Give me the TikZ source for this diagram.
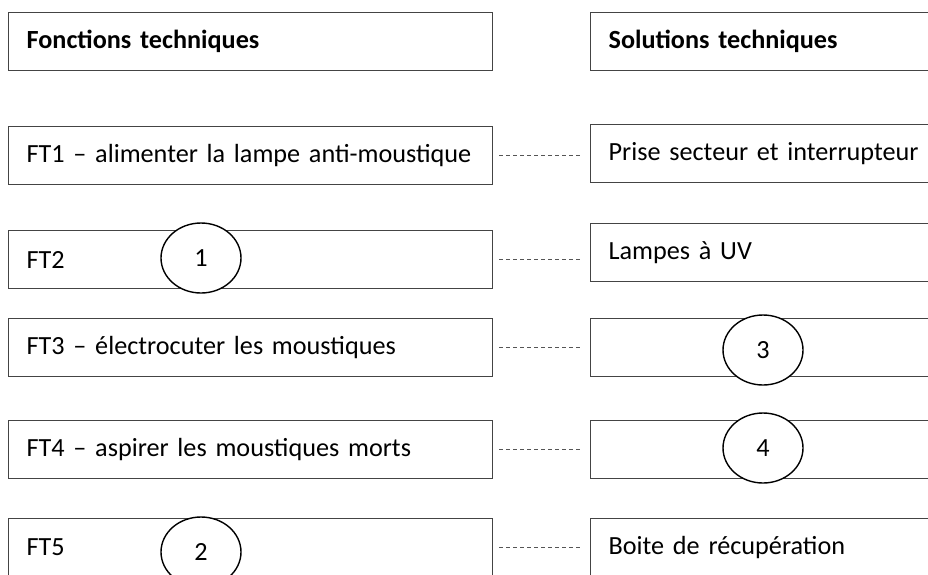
\documentclass[tikz,border=0pt]{standalone}
\usepackage{fontspec}
\setmainfont{Carlito}
\usetikzlibrary{shapes.geometric}
\definecolor{boxline}{HTML}{444444}
\definecolor{dotgray}{HTML}{555555}

\tikzset{
  fbox/.style={draw=boxline, line width=1.3pt, rectangle, anchor=north west,
    minimum height=58pt, text width=448pt, inner xsep=18pt, inner ysep=0pt,
    align=left, font=\fontsize{26.2}{30}\selectfont},
  sbox/.style={fbox, text width=364pt},
  bubble/.style={draw, ellipse, fill=white, line width=1.4pt, minimum width=80pt,
    minimum height=70pt, inner sep=0pt, font=\fontsize{26.2}{30}\selectfont},
  dots/.style={draw=dotgray, line width=1pt, dash pattern=on 4pt off 3pt,
    shorten <=6pt, shorten >=10pt}
}

\begin{document}
\begin{tikzpicture}[x=1pt, y=-1pt]
\clip (0,0) rectangle (928,574);

% headings
\node[fbox] (hf) at (8,12) {\bfseries Fonctions techniques};
\node[sbox] (hs) at (590,12) {\bfseries Solutions techniques};

% fonctions
\node[fbox] (ft1) at (8,126) {FT1 -- alimenter la lampe anti-moustique};
\node[fbox] (ft2) at (8,230) {FT2};
\node[fbox] (ft3) at (8,318) {FT3 -- électrocuter les moustiques};
\node[fbox] (ft4) at (8,420) {FT4 -- aspirer les moustiques morts};
\node[fbox] (ft5) at (8,518) {FT5};

% solutions
\node[sbox] (st1) at (590,124) {Prise secteur et interrupteur};
\node[sbox] (st2) at (590,223) {Lampes à UV};
\node[sbox] (st3) at (590,318) {};
\node[sbox] (st4) at (590,420) {};
\node[sbox] (st5) at (590,518) {Boite de récupération};

% blanks to fill
\node[bubble] (c1) at (201,258) {1};
\node[bubble] (c2) at (201,552) {2};
\node[bubble] (c3) at (763,350) {3};
\node[bubble] (c4) at (763,448) {4};

\foreach \i in {1,...,5}
  \draw[dots] (ft\i.east) -- (ft\i.east -| st\i.west);
\end{tikzpicture}
\end{document}
